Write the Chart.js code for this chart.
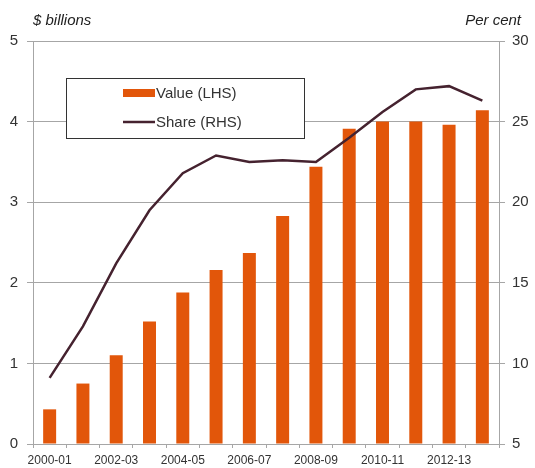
<!DOCTYPE html>
<html>
<head>
<meta charset="utf-8">
<script src="https://cdn.jsdelivr.net/npm/chart.js@4/dist/chart.umd.min.js"></script>
<style>
html,body{margin:0;padding:0;background:#fff;}
canvas{display:block;}
</style>
</head>
<body>
<canvas id="c" width="535" height="468"></canvas>
<script>
const categories = ['2000-01','2001-02','2002-03','2003-04','2004-05','2005-06','2006-07','2007-08','2008-09','2009-10','2010-11','2011-12','2012-13','2013-14'];
const valueLHS = [0.43,0.75,1.10,1.52,1.88,2.16,2.37,2.83,3.44,3.91,4.00,4.00,3.96,4.14];
const shareRHS = [9.1,12.3,16.2,19.5,21.8,22.9,22.5,22.6,22.5,24.0,25.6,27.0,27.2,26.3];
const leftAxisTitle = '$ billions';
const rightAxisTitle = 'Per cent';
const seriesLabels = ['Value (LHS)','Share (RHS)'];

const ORANGE = '#E2560A';
const MAROON = '#45222F';
const GRID = '#A6A6A6';
const TXT = '#333333';
const FONT = '"Liberation Sans", Arial, sans-serif';

const overlay = {
  id: 'overlay',
  afterDraw(chart) {
    const ctx = chart.ctx;
    const a = chart.chartArea;
    ctx.save();
    // axis titles
    ctx.fillStyle = '#222';
    ctx.font = 'italic 15px ' + FONT;
    ctx.textBaseline = 'alphabetic';
    ctx.textAlign = 'left';
    ctx.fillText(leftAxisTitle, a.left, 25);
    ctx.textAlign = 'right';
    ctx.fillText(rightAxisTitle, 521, 25);
    // legend box
    const bx = 66, by = 78, bw = 238, bh = 60;
    ctx.fillStyle = '#fff';
    ctx.fillRect(bx, by, bw, bh);
    ctx.strokeStyle = '#333';
    ctx.lineWidth = 1;
    ctx.strokeRect(bx + 0.5, by + 0.5, bw, bh);
    const ds = chart.data.datasets;
    const barDs = ds.find(d => d.type === 'bar');
    const lineDs = ds.find(d => d.type === 'line');
    ctx.fillStyle = barDs.backgroundColor;
    ctx.fillRect(123, 89, 32, 8);
    ctx.strokeStyle = lineDs.borderColor;
    ctx.lineWidth = 2.5;
    ctx.beginPath();
    ctx.moveTo(123, 122);
    ctx.lineTo(155, 122);
    ctx.stroke();
    ctx.fillStyle = TXT;
    ctx.font = '15px ' + FONT;
    ctx.textAlign = 'left';
    ctx.textBaseline = 'middle';
    ctx.fillText(barDs.label, 156, 94);
    ctx.fillText(lineDs.label, 156, 123);
    ctx.restore();
  }
};

new Chart(document.getElementById('c'), {
  type: 'bar',
  data: {
    labels: categories,
    datasets: [
      {
        type: 'line',
        label: seriesLabels[1],
        data: shareRHS,
        yAxisID: 'y1',
        borderColor: MAROON,
        borderWidth: 2.5,
        pointRadius: 0,
        tension: 0,
        fill: false,
        order: 0
      },
      {
        type: 'bar',
        label: seriesLabels[0],
        data: valueLHS,
        yAxisID: 'y',
        backgroundColor: ORANGE,
        categoryPercentage: 1,
        barPercentage: 0.39,
        order: 1
      }
    ]
  },
  options: {
    responsive: false,
    animation: false,
    devicePixelRatio: 1,
    layout: { padding: { top: 41, left: 0, right: 0, bottom: 0 } },
    plugins: { legend: { display: false }, tooltip: { enabled: false } },
    scales: {
      x: {
        offset: true,
        grid: { display: true, drawOnChartArea: false, color: GRID, tickLength: 4, offset: true },
        border: { color: GRID },
        ticks: {
          autoSkip: false, maxRotation: 0, minRotation: 0, padding: 5,
          color: TXT, font: { family: FONT, size: 12 },
          callback: function(v, i) { return i % 2 === 0 ? categories[i] : ''; }
        },
        afterFit(s) { s.height = 24; }
      },
      y: {
        position: 'left',
        min: 0, max: 5,
        ticks: { stepSize: 1, color: TXT, font: { family: FONT, size: 15 }, padding: 9 },
        grid: { color: GRID, tickLength: 6 },
        border: { color: GRID },
        afterFit(s) { s.width = 33; }
      },
      y1: {
        position: 'right',
        min: 5, max: 30,
        ticks: { stepSize: 5, color: TXT, font: { family: FONT, size: 15 }, padding: 7 },
        grid: { drawOnChartArea: false, color: GRID, tickLength: 6 },
        border: { color: GRID },
        afterFit(s) { s.width = 36; }
      }
    }
  },
  plugins: [overlay]
});
</script>
</body>
</html>
